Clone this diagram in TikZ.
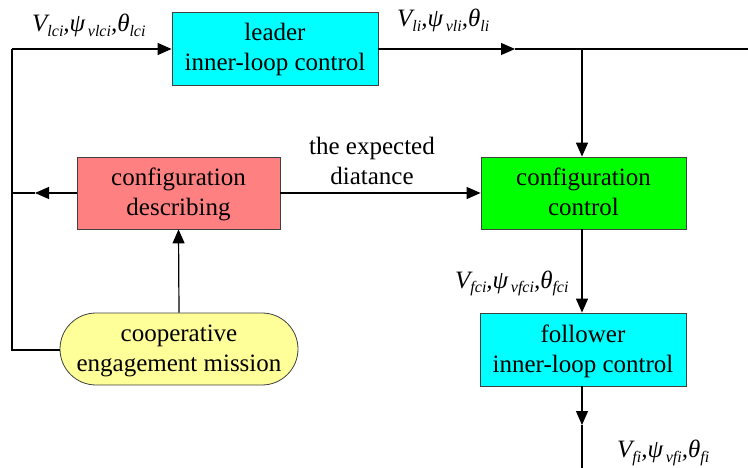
\documentclass[tikz,border=0pt]{standalone}
\usepackage{fontspec}
\setmainfont{LiberationSerif}[Extension=.ttf, UprightFont=*-Regular, ItalicFont=*-Italic, BoldFont=*-Bold, BoldItalicFont=*-BoldItalic]
\usetikzlibrary{arrows.meta,shapes.misc}
\newcommand\sbx[1]{\raisebox{-5pt}{\fontsize{16}{16}\selectfont #1}}
\newcommand\topst{\rule{0pt}{20.5pt}}
\newcommand\botst{\rule[-5.5pt]{0pt}{0pt}}
\definecolor{cyanbox}{RGB}{0,255,255}
\definecolor{redbox}{RGB}{255,128,128}
\definecolor{greenbox}{RGB}{0,255,0}
\definecolor{yellowbox}{RGB}{255,255,153}
\begin{document}
\begin{tikzpicture}[x=1pt,y=-1pt,
  box/.style={draw=black!75, line width=0.8pt, minimum width=205pt, minimum height=72pt,
    align=center, inner sep=0pt, font=\fontsize{25}{30}\selectfont},
  lbl/.style={inner sep=0pt, font=\fontsize{25}{30}\selectfont\itshape},
  txt/.style={inner sep=0pt, align=center, font=\fontsize{25}{30}\selectfont},
  conn/.style={line width=1.2pt},
  arr/.style={conn, -{Triangle[length=14pt,width=12pt]}}]
\useasboundingbox (0,0) rectangle (748,468);

\node[box, fill=cyanbox, minimum width=206pt, minimum height=73pt] (leader) at (275,48.5) {\topst leader\\inner-loop control\botst};
\node[box, fill=redbox, minimum width=203pt] (describe) at (178.5,193) {\topst configuration\\describing\botst};
\node[box, fill=greenbox] (control) at (583.5,193) {\topst configuration\\control\botst};
\node[box, fill=cyanbox, minimum width=206pt, minimum height=73pt] (follower) at (583,349.5) {\topst follower\\inner-loop control\botst};
\node[box, rounded rectangle, fill=yellowbox, minimum width=238pt, minimum height=72pt] (mission) at (179,349) {\topst cooperative\\engagement mission\botst};

\coordinate (L1) at (12,49);
\coordinate (L2) at (12,193);
\coordinate (L3) at (12,350);
\coordinate (ltip) at (35,193);
\coordinate (rtip) at (515,49);
\coordinate (branch) at (582,49);
\coordinate (redge) at (748,49);
\coordinate (dtip) at (582,425);
\coordinate (bedge) at (582,468);

% left feedback loop
\draw[conn] (mission.west |- L3) -- (L3) -- (L1);
\draw[arr] (L1) -- (leader.west |- L1);
\draw[arr] (describe.west) -- (ltip);
\draw[conn] (ltip) -- (L2);
\draw[arr] (mission.north) -- (describe.south);

% leader output
\draw[arr] (leader.east |- L1) -- (rtip);
\draw[conn] (rtip) -- (redge);
\draw[arr] (branch) -- (branch |- control.north);

% expected distance
\draw[arr] (describe.east) -- (control.west);
\node[txt] (dist) at (372,161) {the expected\\diatance};

% follower chain
\draw[arr] (control.south -| branch) -- (follower.north -| branch);
\draw[arr] (follower.south -| branch) -- (dtip);
\draw[conn] (dtip) -- (bedge);

% labels
\node[lbl, anchor=base west] (lab1) at (32,32) {V\sbx{lci},ψ\sbx{\,vlci},θ\sbx{lci}};
\node[lbl, anchor=base west] (lab2) at (397,27) {V\sbx{li},ψ\sbx{\,vli},θ\sbx{li}};
\node[lbl, anchor=base west] (lab3) at (455,288) {V\sbx{fci},ψ\sbx{\,vfci},θ\sbx{fci}};
\node[lbl, anchor=base west] (lab4) at (617,457) {V\sbx{fi},ψ\sbx{\,vfi},θ\sbx{fi}};
\end{tikzpicture}
\end{document}
